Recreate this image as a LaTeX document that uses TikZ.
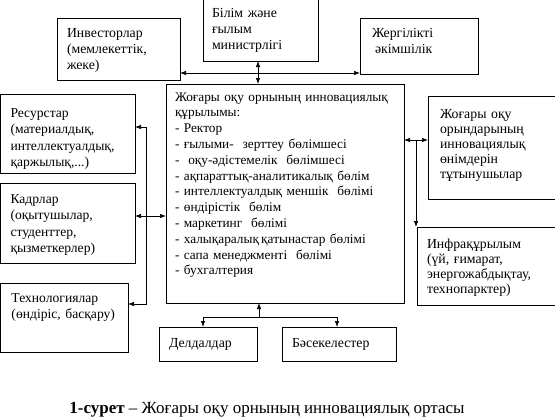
\documentclass[tikz,border=0pt]{standalone}
\usepackage{fontspec}
\setmainfont{Liberation Serif}
\usetikzlibrary{arrows.meta}

\begin{document}
\begin{tikzpicture}[x=1pt,y=-1pt,line width=0.7pt,>={Latex[length=6pt,width=4.5pt]},
  blok/.style={draw,anchor=north west,align=left,inner ysep=0pt,outer sep=0pt,font=\fontsize{13.8}{16}\selectfont},
  bigblok/.style={blok,font=\fontsize{13.6}{16.6}\selectfont},
  mainblok/.style={blok,font=\fontsize{13.3}{15.8}\selectfont}]
\useasboundingbox (0,0) rectangle (555,418);
\node[blok,inner xsep=10pt,text width=103pt,text height=19pt,text depth=43pt] (invest) at (57,18) {Инвесторлар\\(мемлекеттік,\\жеке)};
\node[blok,inner xsep=9pt,text width=97pt,text height=19pt,text depth=44pt] (bilim) at (203,-2) {Білім және\\ғылым\\министрлігі};
\node[blok,inner xsep=12pt,text width=94pt,text height=19pt,text depth=37pt] (zherg) at (360,18) {Жергілікті\\\hspace{3pt}әкімшілік};
\node[mainblok,inner xsep=9pt,text width=220pt,text height=17pt,text depth=202pt] (central) at (166,84) {Жоғары оқу орнының инновациялық\\құрылымы:\\- Ректор\\- ғылыми-\ \ зерттеу бөлімшесі\\-\ \ оқу-әдістемелік\ \ бөлімшесі\\- ақпараттық-аналитикалық бөлім\\- интеллектуалдық меншік\ \ бөлімі\\- өндірістік\ \ бөлім\\- маркетинг\ \ бөлімі\\- халықаралық\,қатынастар бөлімі\\- сапа менеджменті\ \ бөлімі\\- бухгалтерия};
\node[bigblok,inner xsep=10pt,text width=114.5pt,text height=23pt,text depth=56pt] (resurs) at (0.5,94) {Ресурстар\\(материалдық,\\интеллектуалдық,\\қаржылық,...)};
\node[bigblok,inner xsep=10pt,text width=114.5pt,text height=20pt,text depth=60pt] (kadr) at (0.5,183) {Кадрлар\\(оқытушылар,\\студенттер,\\қызметкерлер)};
\node[bigblok,inner xsep=8pt,text width=111.5pt,text height=19pt,text depth=50pt] (tekh) at (0.5,283) {\hspace*{3pt}Технологиялар\\\hspace*{3pt}(өндіріс, басқару)};
\node[blok,inner xsep=12pt,text width=108pt,text height=22pt,text depth=81pt,font=\fontsize{13.8}{15}\selectfont] (tutyn) at (428,96) {Жоғары оқу\\орындарының\\инновациялық\\өнімдерін\\тұтынушылар};
\node[blok,inner xsep=10pt,text width=123pt,text height=21pt,text depth=57pt,font=\fontsize{13.8}{15}\selectfont] (infra) at (417,227) {Инфрақұрылым\\(үй, ғимарат,\\энергожабдықтау,\\технопарктер)};
\node[blok,inner xsep=10pt,text width=78pt,text height=20pt,text depth=14pt] (deldal) at (159,327) {Делдалдар};
\node[blok,inner xsep=10pt,text width=94pt,text height=20pt,text depth=14pt] (basek) at (282,327) {Бәсекелестер};
\node[anchor=base,font=\fontsize{17}{19}\selectfont] (caption) at (267,413) {\textbf{1-сурет} – Жоғары оқу орнының инновациялық ортасы};
\coordinate (top) at (258,73);
\coordinate (ltop) at (146,127);
\coordinate (lbot) at (146,304);
\coordinate (kc) at (150,216);
\coordinate (rtop) at (416,140);
\coordinate (bmid) at (259,317);
\coordinate (dl) at (203,317);
\coordinate (br) at (337,317);
\draw[<->] (bilim.south -| top) -- (central.north -| top);
\draw[->] (top) -- (top -| invest.east);
\draw[->] (top) -- (top -| zherg.west);
\draw[<->] (ltop -| resurs.east) -- (ltop) -- (lbot) -- (lbot -| tekh.east);
\draw[<->] (kc -| kadr.east) -- (kc -| central.west);
\draw[<->] (rtop -| central.east) -- (rtop -| tutyn.west);
\draw[->] (rtop) -- (rtop |- infra.north);
\draw[->] (bmid) -- (bmid |- central.south);
\draw[<->] (dl |- deldal.north) -- (dl) -- (br) -- (br |- basek.north);
\end{tikzpicture}
\end{document}
